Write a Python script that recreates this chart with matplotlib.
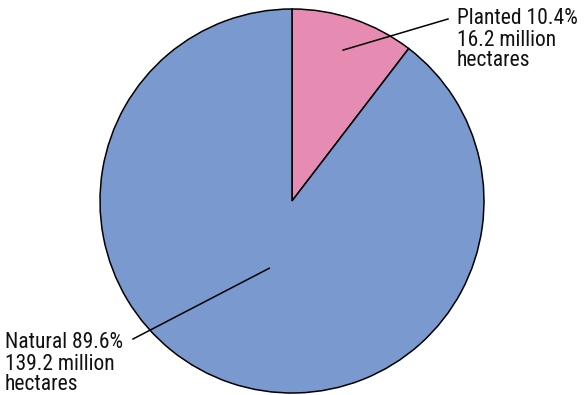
import numpy as np
import matplotlib.pyplot as plt

plt.rcParams['font.family'] = ['Roboto Condensed', 'Liberation Sans Narrow', 'Roboto', 'DejaVu Sans']

labels = ["Planted 10.4%\n16.2 million\nhectares", "Natural 89.6%\n139.2 million\nhectares"]
shares = [10.4, 89.6]
colors = ["#E68CB3", "#7A99CE"]

# layout in pixel units (y up)
W, H = 584, 395
cx, cy, R = 292, 395 - 201, 192
inner_r = [0.83, 0.37]          # where the leader line starts, fraction of radius
line_end = [(448, 395 - 19), (133, 395 - 339)]
text_pos = [(457, 395 - 40), (5, 395 - 364)]

fig = plt.figure(figsize=(W / 100, H / 100), dpi=100)
ax = fig.add_axes([0, 0, 1, 1])

wedges, _ = ax.pie(shares, colors=colors, startangle=90, counterclock=False,
                   center=(cx, cy), radius=R, frame=True,
                   wedgeprops=dict(edgecolor='black', linewidth=1.1))
ax.set_xlim(0, W)
ax.set_ylim(0, H)
ax.set_aspect('equal')
ax.axis('off')

for i, w in enumerate(wedges):
    mid = np.deg2rad((w.theta1 + w.theta2) / 2)
    px = cx + inner_r[i] * R * np.cos(mid)
    py = cy + inner_r[i] * R * np.sin(mid)
    ax.plot([px, line_end[i][0]], [py, line_end[i][1]], color='black', lw=1.1)
    ax.text(text_pos[i][0], text_pos[i][1], labels[i], ha='left', va='center',
            fontsize=15.5, linespacing=1.0, color='#111111')

plt.savefig("out.png", dpi=100)
